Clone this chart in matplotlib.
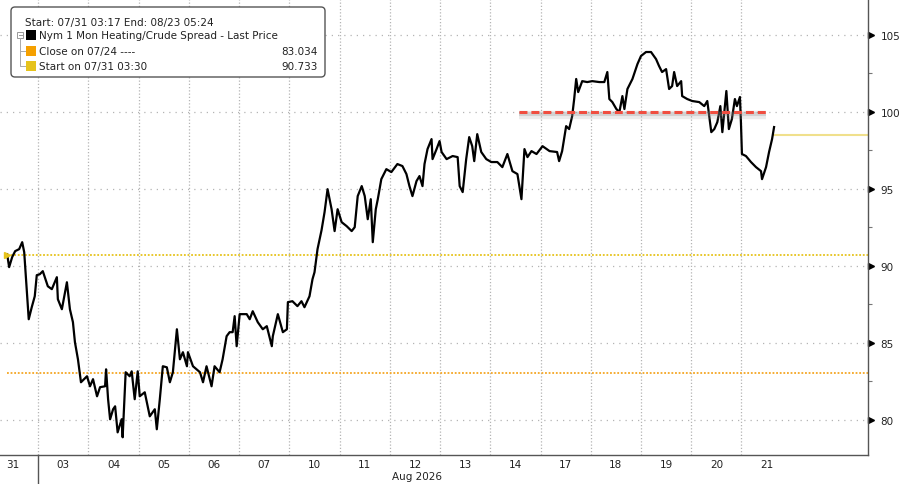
#!/usr/bin/env python3
"""Nymex 1 month heating oil / crude spread, intraday since 07/31"""
import matplotlib
matplotlib.use("Agg")
import matplotlib.pyplot as plt
from matplotlib.patches import FancyBboxPatch, Rectangle

# x positions are in trading-day units: day i spans [i, i+1)
day_labels = ["31", "03", "04", "05", "06", "07", "10", "11", "12",
              "13", "14", "17", "18", "19", "20", "21"]
month_label = "Aug 2026"

times = [
    0.38, 0.42, 0.48, 0.54, 0.62, 0.68, 0.72, 0.81, 0.87, 0.93,
    0.97, 1.03, 1.09, 1.19, 1.27, 1.37, 1.39, 1.47, 1.57, 1.63,
    1.69, 1.73, 1.79, 1.85, 1.97, 2.03, 2.09, 2.17, 2.23, 2.33,
    2.35, 2.39, 2.43, 2.49, 2.53, 2.58, 2.66, 2.68, 2.74, 2.82,
    2.86, 2.92, 2.98, 3.02, 3.12, 3.22, 3.32, 3.36, 3.42, 3.48,
    3.56, 3.62, 3.68, 3.76, 3.82, 3.88, 3.96, 3.98, 4.08, 4.22,
    4.28, 4.35, 4.45, 4.51, 4.61, 4.67, 4.75, 4.81, 4.87, 4.91,
    4.95, 5.01, 5.15, 5.21, 5.27, 5.37, 5.47, 5.55, 5.65, 5.67,
    5.77, 5.87, 5.95, 5.97, 6.06, 6.16, 6.24, 6.30, 6.40, 6.46,
    6.50, 6.56, 6.64, 6.70, 6.76, 6.84, 6.90, 6.96, 7.04, 7.14,
    7.24, 7.30, 7.36, 7.44, 7.50, 7.56, 7.62, 7.66, 7.72, 7.76,
    7.83, 7.93, 8.03, 8.15, 8.25, 8.33, 8.39, 8.45, 8.53, 8.59,
    8.65, 8.69, 8.75, 8.83, 8.85, 8.93, 8.99, 9.03, 9.13, 9.25,
    9.35, 9.39, 9.45, 9.52, 9.58, 9.64, 9.68, 9.74, 9.82, 9.92,
    10.02, 10.14, 10.24, 10.34, 10.44, 10.54, 10.62, 10.68, 10.74, 10.82,
    10.92, 11.04, 11.18, 11.33, 11.37, 11.43, 11.51, 11.57, 11.63, 11.67,
    11.71, 11.75, 11.83, 11.93, 12.03, 12.17, 12.27, 12.33, 12.37, 12.43,
    12.51, 12.57, 12.63, 12.67, 12.73, 12.83, 12.93, 13.00, 13.10, 13.20,
    13.30, 13.36, 13.42, 13.50, 13.56, 13.62, 13.66, 13.72, 13.80, 13.82,
    13.92, 14.02, 14.16, 14.26, 14.32, 14.40, 14.46, 14.52, 14.58, 14.62,
    14.70, 14.75, 14.81, 14.87, 14.91, 14.97, 14.99, 15.01, 15.09, 15.19,
    15.29, 15.39, 15.41, 15.49, 15.55, 15.61, 15.65,
]
prices = [
    90.76, 89.92, 90.57, 90.96, 91.09, 91.54, 90.89, 86.54, 87.32, 88.03,
    89.40, 89.46, 89.66, 88.68, 88.49, 89.27, 87.84, 87.19, 88.94, 87.19,
    86.35, 85.05, 83.94, 82.45, 82.84, 82.19, 82.65, 81.54, 82.13, 82.19,
    83.29, 81.35, 80.05, 80.70, 80.89, 79.20, 80.05, 78.88, 83.10, 82.84,
    83.16, 81.35, 83.16, 81.54, 81.80, 80.24, 80.70, 79.40, 81.35, 83.49,
    83.42, 82.45, 83.10, 85.89, 83.94, 84.40, 83.49, 84.40, 83.49, 83.10,
    82.45, 83.49, 82.19, 83.49, 83.10, 83.94, 85.44, 85.70, 85.70, 86.74,
    84.79, 86.87, 86.87, 86.54, 87.06, 86.35, 85.89, 86.09, 84.79, 85.44,
    86.87, 85.70, 85.89, 87.65, 87.71, 87.39, 87.71, 87.32, 88.03, 89.14,
    89.59, 91.09, 92.32, 93.49, 94.98, 93.68, 92.26, 93.68, 92.84, 92.58,
    92.26, 92.51, 94.53, 95.18, 94.53, 93.03, 94.33, 91.54, 93.68, 94.33,
    95.63, 96.28, 96.09, 96.61, 96.48, 95.96, 95.18, 94.53, 95.50, 95.83,
    95.18, 96.61, 97.58, 98.23, 96.93, 97.58, 98.10, 97.39, 96.93, 97.13,
    97.06, 95.18, 94.79, 96.93, 98.36, 97.77, 96.80, 98.55, 97.39, 96.93,
    96.74, 96.74, 96.41, 97.26, 96.15, 95.96, 94.33, 97.58, 97.06, 97.45,
    97.26, 97.77, 97.45, 97.39, 96.80, 97.45, 99.07, 98.88, 99.72, 100.83,
    102.13, 101.28, 101.99, 101.93, 101.99, 101.93, 101.93, 102.58, 100.83, 100.63,
    100.18, 99.98, 101.02, 100.18, 101.48, 102.13, 103.10, 103.62, 103.88, 103.88,
    103.42, 102.97, 102.58, 102.77, 101.48, 101.67, 102.58, 101.67, 101.99, 101.02,
    100.83, 100.70, 100.63, 100.37, 100.70, 98.68, 98.88, 99.33, 100.37, 98.68,
    101.35, 98.88, 99.53, 100.83, 100.37, 100.96, 99.33, 97.26, 97.13, 96.74,
    96.41, 96.15, 95.63, 96.41, 97.39, 98.23, 99.01,
]
assert len(times) == len(prices)

close_0724 = 83.034
start_0731 = 90.733
last_price = 98.49
level_100 = 100.0
level_span = [10.58, 15.49]

y_ticks = [80, 85, 90, 95, 100, 105]
y_minor = [82.5, 87.5, 92.5, 97.5, 102.5]

XMIN, XMAX = 0.238, 17.52
YMIN, YMAX = 77.73, 107.32
GRID = "#b4b4b4"
AXC = "#555555"
plt.rcParams["font.family"] = ["DejaVu Sans"]

fig = plt.figure(figsize=(9, 4.85), dpi=100)
fig.patch.set_facecolor("white")
ax = fig.add_axes([0, 1 - 456 / 485, 868 / 900, 456 / 485])
ax.set_xlim(XMIN, XMAX)
ax.set_ylim(YMIN, YMAX)

# grid
for v in y_ticks:
    ax.axhline(v, color=GRID, lw=0.9, ls=(0, (1, 4)), zorder=1)
for k in range(1, len(day_labels)):
    ax.axvline(k, color=GRID, lw=0.9, ls=(0, (1, 1.6)), zorder=1)

# reference lines
ax.plot([times[0], XMAX], [close_0724] * 2, color="#f5a623", lw=1.3,
        ls=(0, (1, 1)), zorder=2)
ax.plot([times[0], XMAX], [start_0731] * 2, color="#e6c31c", lw=1.3,
        ls=(0, (1, 1)), zorder=2)
ax.plot([times[-1], XMAX], [last_price] * 2, color="#f0e08c", lw=1.5, zorder=2)
ax.plot(times[0], start_0731, marker=">", ms=5, color="#e6c31c", zorder=4)

# price line
ax.plot(times, prices, color="black", lw=1.6, zorder=3)

# red 100 level with soft shadow
ax.plot(level_span, [level_100 - 0.2] * 2, color="#999999", alpha=0.18,
        lw=6, solid_capstyle="butt", zorder=4)
ax.plot(level_span, [level_100 - 0.15] * 2, color="#888888", alpha=0.25,
        lw=3, solid_capstyle="butt", zorder=4)
ax.plot(level_span, [level_100] * 2, color="#f04e40", lw=2.2,
        dashes=(2.6, 1.3), zorder=5)

# axes styling
for s in ["top", "left"]:
    ax.spines[s].set_visible(False)
for s in ["right", "bottom"]:
    ax.spines[s].set_color(AXC)
    ax.spines[s].set_linewidth(1)

ax.yaxis.tick_right()
ax.set_yticks(y_ticks)
ax.set_yticks(y_minor, minor=True)
ax.tick_params(axis="y", which="major", length=0, pad=9, labelsize=7.5,
               labelcolor="#222222")
ax.tick_params(axis="y", which="minor", length=3, width=0.8, color="#777777")
ax.plot([1.0035] * len(y_ticks), y_ticks, transform=ax.get_yaxis_transform(),
        marker=">", ms=4.5, color="black", ls="none", clip_on=False)

ax.set_xticks([k + 0.5 for k in range(len(day_labels))])
ax.set_xticklabels(day_labels)
ax.tick_params(axis="x", length=0, pad=3, labelsize=7.5, labelcolor="#222222")
ax.plot([1, 1], [0, -0.07], transform=ax.get_xaxis_transform(), color=AXC,
        lw=1, clip_on=False)
ax.text(8.55, -0.047, month_label, transform=ax.get_xaxis_transform(),
        ha="center", va="center", fontsize=7.5, color="#222222")

# legend box, drawn in pixel coordinates
ov = fig.add_axes([0, 0, 1, 1])
ov.set_xlim(0, 900)
ov.set_ylim(485, 0)
ov.axis("off")
ov.add_patch(FancyBboxPatch((11, 8), 314, 70,
                            boxstyle="round,pad=0,rounding_size=4",
                            fc="white", ec=AXC, lw=1))
fs = 7.5
ov.text(25, 23, "Start: 07/31 03:17 End: 08/23 05:24", fontsize=fs,
        va="center", color="#222222")
rows = [
    (36, "black", "Nym 1 Mon Heating/Crude Spread - Last Price", ""),
    (52, "#f5a000", "Close on 07/24 ----", f"{close_0724:.3f}"),
    (67, "#e6c31c", "Start on 07/31 03:30", f"{start_0731:.3f}"),
]
for y, c, label, val in rows:
    ov.add_patch(Rectangle((26, y - 5), 10, 10, fc=c, ec="none"))
    ov.text(39, y, label, fontsize=fs, va="center", color="#222222")
    if val:
        ov.text(318, y, val, fontsize=fs, va="center", ha="right",
                color="#222222")
# tree connector
ov.add_patch(Rectangle((17, 33), 6, 6, fc="white", ec="#999999", lw=0.7))
ov.plot([18.5, 21.5], [36, 36], color="#999999", lw=0.7)
ov.plot([20, 20, 25], [39, 67, 67], color="#aaaaaa", lw=0.7)
ov.plot([20, 25], [52, 52], color="#aaaaaa", lw=0.7)

fig.savefig("out.png", dpi=100)
